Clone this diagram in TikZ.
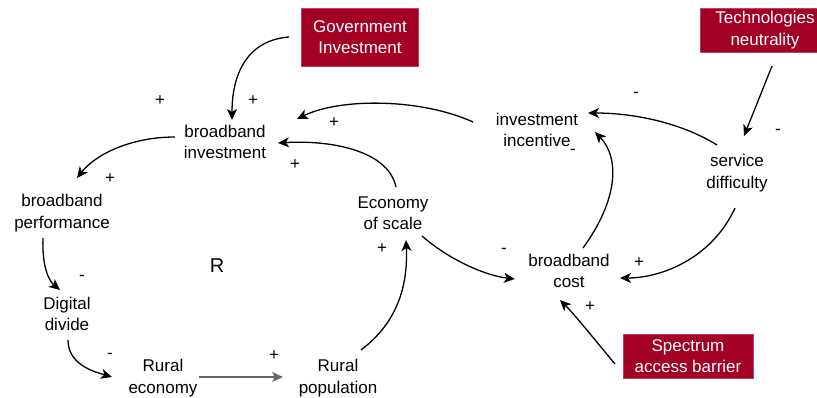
\documentclass[tikz,border=0pt]{standalone}
\usepackage{fontspec}
\setmainfont{Liberation Sans}
\usetikzlibrary{arrows.meta}
\definecolor{boxred}{HTML}{A20025}
\definecolor{boxline}{HTML}{C04060}
\begin{document}
\begin{tikzpicture}[x=1pt,y=-1pt,
  lbl/.style={align=center,font=\fontsize{17}{21.5}\selectfont,inner sep=0pt},
  ext/.style={lbl,fill=boxred,draw=boxline,line width=0.8pt,text=white},
  sgn/.style={font=\fontsize{17}{20}\selectfont,inner sep=0pt},
  arr/.style={line width=1.3pt,-{Stealth[length=11pt,width=10pt,inset=3pt]}}]
\useasboundingbox (0,0) rectangle (817,398);
% external factors
\node[ext,minimum width=117pt,minimum height=58pt] (gov) at (360,37) {Government\\Investment};
\node[ext,minimum width=130pt,minimum height=44pt] (tech) at (765,30) {Technologies\\neutrality};
\node[ext,minimum width=130pt,minimum height=44pt] (spec) at (688,356) {Spectrum\\access barrier};
% variables
\node[lbl] (bbi) at (225,142) {broadband\\investment};
\node[lbl] (ii) at (537,130) {investment\\incentive};
\node[lbl] (sd) at (737,173) {service\\difficulty};
\node[lbl] (bbp) at (62,213) {broadband\\performance};
\node[lbl] (eos) at (393,213) {Economy\\of scale};
\node[lbl] (dd) at (67,314) {Digital\\divide};
\node[lbl] (bbc) at (569,271) {broadband\\cost};
\node[lbl] (re) at (163,378) {Rural\\economy};
\node[lbl] (rp) at (338,378) {Rural\\population};
\node[font=\fontsize{20}{24}\selectfont,inner sep=0pt] (R) at (217,266) {R};
% connectors
\draw[arr] ([shift={(-71,0)}]gov.center) .. controls (250,40) and (232,70) .. ([shift={(7,-22)}]bbi.center);
\draw[arr] ([shift={(-64,-8)}]ii.center) .. controls (420,98) and (340,98) .. ([shift={(72,-23)}]bbi.center);
\draw[arr] ([shift={(3,-26)}]eos.center) .. controls (388,150) and (330,140) .. ([shift={(53,1)}]bbi.center);
\draw[arr] ([shift={(-50,-5)}]bbi.center) .. controls (130,137) and (95,155) .. ([shift={(15,-35)}]bbp.center);
\draw[arr] ([shift={(-19,25)}]bbp.center) .. controls (42,265) and (48,280) .. ([shift={(-7,-24)}]dd.center);
\draw[arr] ([shift={(1,26)}]dd.center) .. controls (68,365) and (95,372) .. ([shift={(-51,-1)}]re.center);
\draw[arr,draw=black!60] ([shift={(36,-1)}]re.center) -- ([shift={(-55,-1)}]rp.center);
\draw[arr] ([shift={(23,-28)}]rp.center) .. controls (398,322) and (408,285) .. ([shift={(13,27)}]eos.center);
\draw[arr] ([shift={(29,23)}]eos.center) .. controls (452,262) and (488,276) .. ([shift={(-54,8)}]bbc.center);
\draw[arr] ([shift={(14,-23)}]bbc.center) .. controls (618,200) and (620,158) .. ([shift={(58,2)}]ii.center);
\draw[arr] ([shift={(-20,-28)}]sd.center) .. controls (680,122) and (632,113) .. ([shift={(51,-17)}]ii.center);
\draw[arr] ([shift={(7,36)}]tech.center) -- ([shift={(7,-37)}]sd.center);
\draw[arr] ([shift={(-2,35)}]sd.center) .. controls (712,258) and (662,278) .. ([shift={(51,7)}]bbc.center);
\draw[arr] ([shift={(-73,8)}]spec.center) .. controls (595,340) and (575,315) .. ([shift={(-9,29)}]bbc.center);
% polarity signs
\node[sgn] (s1) at (160,101) {+};
\node[sgn] (s2) at (253,101) {+};
\node[sgn] (s3) at (334,123) {+};
\node[sgn] (s4) at (295,165) {+};
\node[sgn] (s5) at (110,179) {+};
\node[sgn] (s6) at (82,278) {-};
\node[sgn] (s7) at (110,356) {-};
\node[sgn] (s8) at (274,356) {+};
\node[sgn] (s9) at (382,249) {+};
\node[sgn] (s10) at (504,251) {-};
\node[sgn] (s11) at (639,263) {+};
\node[sgn] (s12) at (590,307) {+};
\node[sgn] (s13) at (573,152) {-};
\node[sgn] (s14) at (636,95) {-};
\node[sgn] (s15) at (778,132) {-};
\end{tikzpicture}
\end{document}
